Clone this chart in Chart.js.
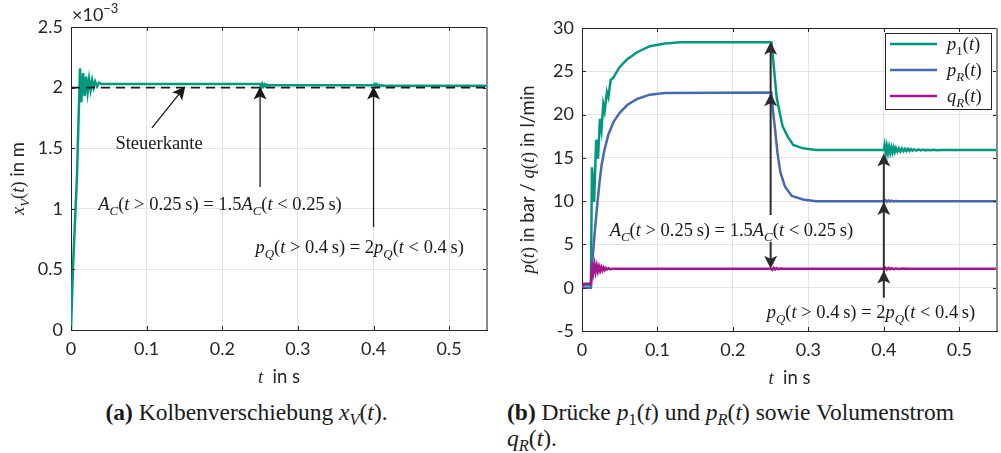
<!DOCTYPE html>
<html>
<head>
<meta charset="utf-8">
<script src="https://cdn.jsdelivr.net/npm/chart.js@4.4.0/dist/chart.umd.min.js"></script>
<style>
  html, body { margin: 0; padding: 0; background: #fff; }
  #wrap { position: relative; width: 1001px; height: 453px; overflow: hidden; background: #fff; }
  canvas { position: absolute; top: 0; }
  .cap { position: absolute; font-family: "Liberation Serif", serif; font-size: 23.5px; line-height: 26px; color: #1a1a1a; }
  .cap sub { font-size: 0.7em; vertical-align: -0.3em; line-height: 0; }
</style>
</head>
<body>
<div id="wrap">
  <canvas id="cA" width="500" height="395" style="left:0"></canvas>
  <canvas id="cB" width="501" height="395" style="left:500px"></canvas>
  <div class="cap" style="left:0;width:493px;top:399px;text-align:center"><b>(a)</b> Kolbenverschiebung <i>x<sub>V</sub></i>(<i>t</i>).</div>
  <div class="cap" style="left:507px;top:399px;width:494px"><b>(b)</b> Drücke <i>p</i><sub>1</sub>(<i>t</i>) und <i>p<sub>R</sub></i>(<i>t</i>) sowie Volumenstrom<br><i>q<sub>R</sub></i>(<i>t</i>).</div>
</div>
<script>
// ticks
const tTicks = [0, 0.1, 0.2, 0.3, 0.4, 0.5];
const xVTicks = [0, 0.5, 1, 1.5, 2, 2.5];   // x_V in 1e-3 m
const pTicks = [-5, 0, 5, 10, 15, 20, 25, 30];

// (a) Kolbenverschiebung, x_V in 1e-3 m
const tX = [0, 0.0025, 0.0078, 0.0119, 0.0137, 0.0160, 0.0180, 0.0200, 0.0220, 0.0240,
  0.0260, 0.0280, 0.0300, 0.0320, 0.0345, 0.0370, 0.0400, 0.2500, 0.2515, 0.2530,
  0.2545, 0.2560, 0.2575, 0.2590, 0.2610, 0.2640, 0.2700, 0.4000, 0.4015, 0.4030,
  0.4045, 0.4060, 0.4075, 0.4090, 0.4110, 0.4140, 0.4200, 0.5500];
const xV = [0, 0.50, 1.25, 2.16, 1.88, 2.12, 1.93, 2.09, 1.96, 2.07,
  1.98, 2.06, 2.00, 2.05, 2.01, 2.04, 2.03, 2.03, 2.00, 2.03,
  2.01, 2.027, 2.014, 2.025, 2.017, 2.022, 2.02, 2.02, 2.03, 2.01,
  2.026, 2.012, 2.022, 2.014, 2.019, 2.016, 2.015, 2.015];
const steuerkante = 2.0;

// (b) Druecke in bar, Volumenstrom in l/min
const tP1 = [0, 0.0118, 0.0132, 0.0160, 0.0188, 0.0212, 0.0238, 0.0258, 0.0282, 0.0300,
  0.0330, 0.0350, 0.0380, 0.0410, 0.0500, 0.0600, 0.0730, 0.0900, 0.1100, 0.1300,
  0.2510, 0.2530, 0.2580, 0.2620, 0.2660, 0.2730, 0.2800, 0.2930, 0.3100, 0.4000,
  0.4010, 0.4025, 0.4040, 0.4055, 0.4070, 0.4085, 0.4100, 0.4115, 0.4130, 0.4145,
  0.4160, 0.4180, 0.4200, 0.4220, 0.4240, 0.4260, 0.4280, 0.4300, 0.4320, 0.4340,
  0.4360, 0.4380, 0.4400, 0.4430, 0.4460, 0.4490, 0.4520, 0.4550, 0.4580, 0.4620,
  0.4660, 0.4700, 0.4750, 0.4800, 0.5500];
const p1 = [0.3, 0.3, 13.9, 9.9, 17.1, 14.9, 19.5, 18.2, 21.2, 20.4,
  22.6, 22.0, 24.0, 24.2, 25.5, 26.4, 27.2, 27.9, 28.2, 28.35,
  28.35, 26.6, 22.0, 20.2, 18.6, 17.4, 16.5, 16.1, 15.9, 15.9,
  16.45, 15.5, 16.35, 15.55, 16.28, 15.6, 16.22, 15.64, 16.18, 15.68,
  16.14, 15.72, 16.1, 15.74, 16.07, 15.77, 16.05, 15.79, 16.03, 15.81,
  16.01, 15.83, 16.0, 15.85, 15.98, 15.86, 15.96, 15.87, 15.94, 15.88,
  15.93, 15.89, 15.92, 15.9, 15.9];

const tPR = [0, 0.0118, 0.0135, 0.0170, 0.0200, 0.0230, 0.0260, 0.0300, 0.0350, 0.0420,
  0.0500, 0.0600, 0.0730, 0.0900, 0.1100, 0.2510, 0.2525, 0.2560, 0.2590, 0.2630,
  0.2690, 0.2780, 0.2930, 0.3100, 0.4000, 0.4020, 0.4040, 0.4060, 0.4080, 0.4100,
  0.4130, 0.4160, 0.4200, 0.5500];
const pR = [0, 0, 2.9, 6.5, 9.4, 12.0, 14.2, 16.0, 17.7, 19.2,
  20.2, 21.1, 21.8, 22.3, 22.5, 22.55, 20.9, 18.2, 15.6, 13.3,
  11.7, 10.6, 10.2, 10.0, 10.0, 10.12, 9.92, 10.08, 9.95, 10.05,
  9.97, 10.02, 10.0, 10.0];

const tQR = [0, 0.0020, 0.0118, 0.0135, 0.0150, 0.0165, 0.0180, 0.0195, 0.0210, 0.0225,
  0.0240, 0.0255, 0.0270, 0.0285, 0.0300, 0.0315, 0.0330, 0.0350, 0.0370, 0.0400,
  0.2500, 0.2520, 0.2540, 0.2560, 0.2580, 0.2600, 0.2630, 0.2670, 0.2700, 0.4000,
  0.4020, 0.4040, 0.4060, 0.4080, 0.4100, 0.4130, 0.4160, 0.4200, 0.4250, 0.4300,
  0.5500];
const qR = [0.1, 0.45, 0.45, 2.9, 1.8, 2.7, 1.85, 2.55, 1.9, 2.45,
  1.95, 2.38, 2.0, 2.32, 2.05, 2.28, 2.1, 2.24, 2.14, 2.2,
  2.2, 2.05, 2.3, 2.1, 2.26, 2.14, 2.22, 2.18, 2.2, 2.2,
  2.32, 2.1, 2.28, 2.13, 2.25, 2.15, 2.23, 2.17, 2.21, 2.19,
  2.2];

const green = '#00997f', blue = '#4a68b0', magenta = '#a3168e';
const ink = '#1a1a1a', axisInk = '#262626', gridCol = '#e3e3e3';
const serif = '"Liberation Serif", serif';
const sans = 'Lato, sans-serif';
const TXT = 18.5;

// rich text: parts = [[text, style], ...]
function fontOf(st, size) {
  if (st == 'i') return 'italic ' + size + 'px ' + serif;
  if (st == 'r') return size + 'px ' + serif;
  if (st == 'sub') return 'italic ' + (size * 0.7) + 'px ' + serif;
  if (st == 'subr') return (size * 0.7) + 'px ' + serif;
  if (st == 'sup') return (size * 0.72) + 'px ' + sans;
  return size + 'px ' + sans;
}
function dyOf(st, size) {
  if (st == 'sub' || st == 'subr') return size * 0.28;
  if (st == 'sup') return -size * 0.42;
  return 0;
}
function drawRich(ctx, parts, x, yc, align, size) {
  let w = 0;
  parts.forEach(p => { ctx.font = fontOf(p[1], size); w += ctx.measureText(p[0]).width; });
  let cx = align == 'center' ? x - w / 2 : (align == 'right' ? x - w : x);
  const base = yc + size * 0.33;
  ctx.textAlign = 'left';
  ctx.textBaseline = 'alphabetic';
  parts.forEach(p => {
    ctx.font = fontOf(p[1], size);
    ctx.fillText(p[0], cx, base + dyOf(p[1], size));
    cx += ctx.measureText(p[0]).width;
  });
}

function arrowHead(ctx, x, y, ux, uy) {
  const L = 13, W = 6.5, back = 3;
  const px = -uy, py = ux;
  ctx.beginPath();
  ctx.moveTo(x, y);
  ctx.lineTo(x - ux * L + px * W, y - uy * L + py * W);
  ctx.lineTo(x - ux * (L - back), y - uy * (L - back));
  ctx.lineTo(x - ux * L - px * W, y - uy * L - py * W);
  ctx.closePath();
  ctx.fill();
}

const acText = [['A', 'i'], ['C', 'sub'], ['(', 'r'], ['t', 'i'], [' > 0.25\u2009s) = 1.5', 'r'], ['A', 'i'], ['C', 'sub'], ['(', 'r'], ['t', 'i'], [' < 0.25\u2009s)', 'r']];
const pqText = [['p', 'i'], ['Q', 'sub'], ['(', 'r'], ['t', 'i'], [' > 0.4\u2009s) = 2', 'r'], ['p', 'i'], ['Q', 'sub'], ['(', 'r'], ['t', 'i'], [' < 0.4\u2009s)', 'r']];
const tTitle = [['t', 'i'], ['  in s', 's']];

function makeDecor(cfg) {
  return {
    id: 'decor' + cfg.name,
    afterDatasetsDraw(chart) {
      const ctx = chart.ctx, xs = chart.scales.x, ys = chart.scales.y;
      ctx.save();
      ctx.fillStyle = cfg.arrowCol;
      ctx.strokeStyle = cfg.arrowCol;
      ctx.lineWidth = cfg.shaft;
      cfg.arrows.forEach(a => {
        const x1 = xs.getPixelForValue(a.from[0]), y1 = ys.getPixelForValue(a.from[1]);
        const x2 = xs.getPixelForValue(a.to[0]), y2 = ys.getPixelForValue(a.to[1]);
        const len = Math.hypot(x2 - x1, y2 - y1), ux = (x2 - x1) / len, uy = (y2 - y1) / len;
        ctx.beginPath();
        ctx.moveTo(x1, y1);
        ctx.lineTo(x2 - ux * 8, y2 - uy * 8);
        ctx.stroke();
        a.heads.forEach(h => arrowHead(ctx, xs.getPixelForValue(h[0]), ys.getPixelForValue(h[1]), ux, uy));
      });
      ctx.fillStyle = ink;
      cfg.texts.forEach(tx => {
        drawRich(ctx, tx.parts, xs.getPixelForValue(tx.at[0]), ys.getPixelForValue(tx.at[1]), 'center', TXT);
      });
      ctx.restore();
    },
    afterDraw(chart) {
      const ctx = chart.ctx, a = chart.chartArea, xs = chart.scales.x, ys = chart.scales.y;
      ctx.save();
      // box and inward ticks
      ctx.strokeStyle = axisInk;
      ctx.lineWidth = 1;
      ctx.beginPath();
      ctx.moveTo(a.left, a.top + 0.5); ctx.lineTo(a.right, a.top + 0.5);
      xs.ticks.forEach(t => {
        const x = Math.round(xs.getPixelForValue(t.value)) + 0.5;
        ctx.moveTo(x, a.bottom); ctx.lineTo(x, a.bottom - 4);
        ctx.moveTo(x, a.top); ctx.lineTo(x, a.top + 4);
      });
      ys.ticks.forEach(t => {
        const y = Math.round(ys.getPixelForValue(t.value)) + 0.5;
        ctx.moveTo(a.left, y); ctx.lineTo(a.left + 4, y);
        ctx.moveTo(a.right, y); ctx.lineTo(a.right - 4, y);
      });
      ctx.stroke();
      ctx.strokeStyle = '#8a8a8a';
      ctx.lineWidth = 2;
      ctx.beginPath();
      ctx.moveTo(a.right, a.top); ctx.lineTo(a.right, a.bottom);
      ctx.stroke();

      // axis titles
      ctx.fillStyle = axisInk;
      drawRich(ctx, tTitle, (a.left + a.right) / 2, a.bottom + 47, 'center', TXT);
      ctx.save();
      ctx.translate(cfg.yTitleX, (a.top + a.bottom) / 2);
      ctx.rotate(-Math.PI / 2);
      drawRich(ctx, cfg.yTitle, 0, 0, 'center', TXT);
      ctx.restore();
      if (cfg.exponent) drawRich(ctx, cfg.exponent, a.left + 1, a.top - 12, 'left', 18);

      // legend
      if (cfg.legend) {
        const L = cfg.legend, bx = a.right - 112, by = a.top + 5, bw = 106, bh = 76;
        ctx.fillStyle = '#fff';
        ctx.fillRect(bx, by, bw, bh);
        ctx.strokeStyle = axisInk;
        ctx.lineWidth = 1;
        ctx.strokeRect(bx + 0.5, by + 0.5, bw, bh);
        chart.data.datasets.forEach((ds, i) => {
          const y = by + 11 + i * 26;
          ctx.strokeStyle = ds.borderColor;
          ctx.lineWidth = 2.5;
          ctx.beginPath();
          ctx.moveTo(bx + 5, y); ctx.lineTo(bx + 52, y);
          ctx.stroke();
          ctx.fillStyle = ink;
          drawRich(ctx, L[i], bx + 62, y, 'left', TXT);
        });
      }
      ctx.restore();
    }
  };
}

function axes(xTicks, yTicks, yMin, yMax, yWidth, xHeight) {
  const tickFont = { family: sans, size: 18 };
  return {
    x: {
      type: 'linear', min: 0, max: 0.55,
      afterBuildTicks: s => { s.ticks = xTicks.map(v => ({ value: v })); },
      afterFit: s => { s.height = xHeight; },
      ticks: { font: tickFont, color: axisInk, padding: 8, maxRotation: 0, callback: v => String(+v.toFixed(2)) },
      grid: { color: gridCol, drawTicks: false },
      border: { color: axisInk, width: 1 }
    },
    y: {
      type: 'linear', min: yMin, max: yMax,
      afterBuildTicks: s => { s.ticks = yTicks.map(v => ({ value: v })); },
      afterFit: s => { s.width = yWidth; },
      ticks: { font: tickFont, color: axisInk, padding: 8, callback: v => String(v) },
      grid: { color: gridCol, drawTicks: false },
      border: { color: axisInk, width: 1 }
    }
  };
}

const baseOpts = {
  responsive: false, animation: false, devicePixelRatio: 1,
  plugins: { legend: { display: false }, tooltip: { enabled: false } },
  elements: { point: { radius: 0 }, line: { tension: 0 } }
};

new Chart(document.getElementById('cA'), {
  type: 'line',
  data: {
    datasets: [
      { data: [{ x: 0, y: steuerkante }, { x: 0.55, y: steuerkante }], borderColor: ink, borderWidth: 1.6, borderDash: [9, 6], order: 1 },
      { data: tX.map((t, i) => ({ x: t, y: xV[i] })), borderColor: green, borderWidth: 2.5, order: 2 }
    ]
  },
  options: Object.assign({}, baseOpts, {
    layout: { padding: { left: 0, top: 27, right: 13, bottom: 0 } },
    scales: axes(tTicks, xVTicks, 0, 2.5, 71, 65)
  }),
  plugins: [makeDecor({
    name: 'A', arrowCol: ink, shaft: 1.3, yTitleX: 18,
    yTitle: [['x', 'i'], ['V', 'sub'], ['(', 'r'], ['t', 'i'], [')', 'r'], [' in m', 's']],
    exponent: [['\u00d710', 's'], ['\u22123', 'sup']],
    arrows: [
      { from: [0.107, 1.667], to: [0.151, 2.01], heads: [[0.151, 2.01]] },
      { from: [0.25, 1.18], to: [0.25, 2.01], heads: [[0.25, 2.01]] },
      { from: [0.4, 0.85], to: [0.4, 2.01], heads: [[0.4, 2.01]] }
    ],
    texts: [
      { at: [0.1164, 1.543], parts: [['Steuerkante', 'r']] },
      { at: [0.197, 1.04], parts: acText },
      { at: [0.3816, 0.685], parts: pqText }
    ]
  })]
});

new Chart(document.getElementById('cB'), {
  type: 'line',
  data: {
    datasets: [
      { label: 'p1', data: tP1.map((t, i) => ({ x: t, y: p1[i] })), borderColor: green, borderWidth: 2.5, order: 3 },
      { label: 'pR', data: tPR.map((t, i) => ({ x: t, y: pR[i] })), borderColor: blue, borderWidth: 2.5, order: 2 },
      { label: 'qR', data: tQR.map((t, i) => ({ x: t, y: qR[i] })), borderColor: magenta, borderWidth: 2.5, order: 1 }
    ]
  },
  options: Object.assign({}, baseOpts, {
    layout: { padding: { left: 0, top: 28, right: 4, bottom: 0 } },
    scales: axes(tTicks, pTicks, -5, 30, 82, 64)
  }),
  plugins: [makeDecor({
    name: 'B', arrowCol: '#2b2b2b', shaft: 2, yTitleX: 28,
    yTitle: [['p', 'i'], ['(', 'r'], ['t', 'i'], [')', 'r'], [' in bar / ', 's'], ['q', 'i'], ['(', 'r'], ['t', 'i'], [')', 'r'], [' in l/min', 's']],
    exponent: null,
    legend: [
      [['p', 'i'], ['1', 'subr'], ['(', 'r'], ['t', 'i'], [')', 'r']],
      [['p', 'i'], ['R', 'sub'], ['(', 'r'], ['t', 'i'], [')', 'r']],
      [['q', 'i'], ['R', 'sub'], ['(', 'r'], ['t', 'i'], [')', 'r']]
    ],
    arrows: [
      { from: [0.25, 8.4], to: [0.25, 28.4], heads: [[0.25, 22.45], [0.25, 28.4]] },
      { from: [0.25, 5.3], to: [0.25, 2.2], heads: [[0.25, 2.2]] },
      { from: [0.4, -1.15], to: [0.4, 15.5], heads: [[0.4, 2.0], [0.4, 9.9], [0.4, 15.5]] }
    ],
    texts: [
      { at: [0.198, 6.7], parts: acText },
      { at: [0.383, -2.77], parts: pqText }
    ]
  })]
});
</script>
</body>
</html>
